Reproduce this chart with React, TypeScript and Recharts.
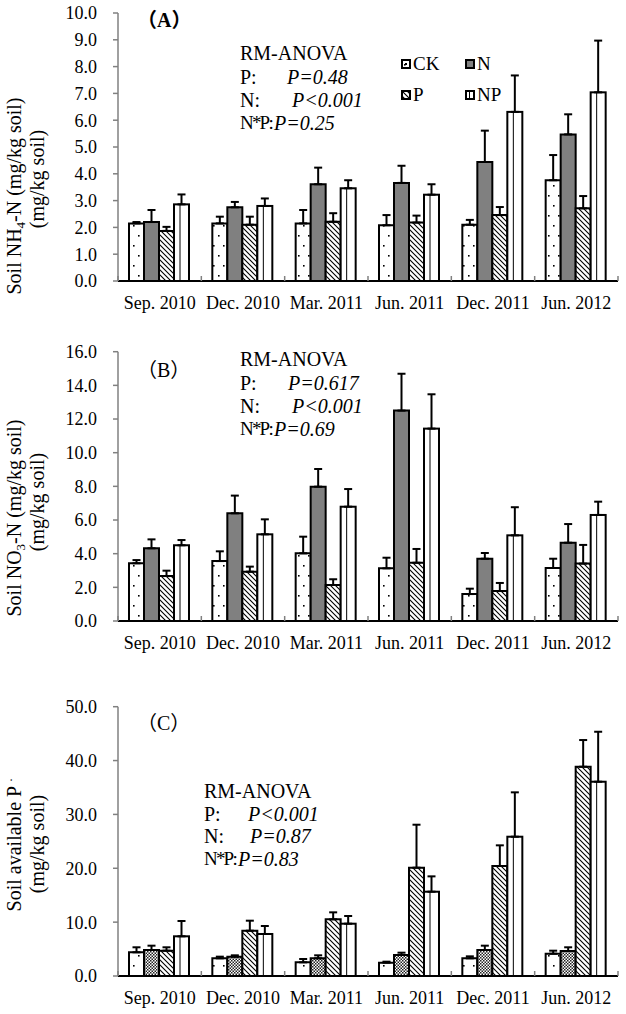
import React from 'react';
import { BarChart, Bar, XAxis, YAxis, ErrorBar, Legend } from 'recharts';

const FONT = '"Liberation Serif", "Times New Roman", serif';

const dates = ['Sep. 2010', 'Dec. 2010', 'Mar. 2011', 'Jun. 2011', 'Dec. 2011', 'Jun. 2012'];

// (A) NH4-N
const nh4CK = [2.15, 2.15, 2.15, 2.08, 2.1, 3.76];
const nh4CKse = [0.05, 0.25, 0.5, 0.38, 0.18, 0.94];
const nh4N = [2.2, 2.75, 3.61, 3.66, 4.44, 5.47];
const nh4Nse = [0.45, 0.2, 0.62, 0.64, 1.17, 0.75];
const nh4P = [1.87, 2.1, 2.21, 2.18, 2.46, 2.71];
const nh4Pse = [0.15, 0.3, 0.32, 0.26, 0.3, 0.46];
const nh4NP = [2.86, 2.8, 3.46, 3.22, 6.31, 7.04];
const nh4NPse = [0.37, 0.28, 0.3, 0.39, 1.36, 1.93];

// (B) NO3-N
const no3CK = [3.43, 3.56, 4.02, 3.13, 1.6, 3.15];
const no3CKse = [0.19, 0.58, 0.99, 0.63, 0.32, 0.55];
const no3N = [4.32, 6.4, 7.98, 12.5, 3.7, 4.65];
const no3Nse = [0.53, 1.05, 1.05, 2.19, 0.34, 1.11];
const no3P = [2.67, 2.93, 2.14, 3.46, 1.78, 3.41];
const no3Pse = [0.32, 0.3, 0.34, 0.82, 0.48, 1.11];
const no3NP = [4.5, 5.15, 6.79, 11.43, 5.09, 6.3];
const no3NPse = [0.31, 0.89, 1.05, 2.04, 1.67, 0.79];

// (C) available P
const avpCK = [4.4, 3.28, 2.54, 2.47, 3.28, 4.14];
const avpCKse = [0.93, 0.31, 0.62, 0.19, 0.37, 0.56];
const avpN = [4.83, 3.59, 3.28, 3.9, 4.83, 4.64];
const avpNse = [0.8, 0.25, 0.56, 0.43, 0.8, 0.69];
const avpP = [4.7, 8.41, 10.52, 20.11, 20.42, 38.85];
const avpPse = [0.63, 1.86, 1.3, 7.98, 3.84, 4.96];
const avpNP = [7.37, 7.8, 9.71, 15.65, 25.86, 36.07];
const avpNPse = [2.84, 1.48, 1.43, 2.85, 8.24, 9.28];

const ticksA = [0, 1, 2, 3, 4, 5, 6, 7, 8, 9, 10];
const ticksB = [0, 2, 4, 6, 8, 10, 12, 14, 16];
const ticksC = [0, 10, 20, 30, 40, 50];

const buildRows = (ck, ckSe, n, nSe, p, pSe, np, npSe) =>
  dates.map((d, i) => ({
    date: d,
    CK: ck[i], CKe: [0, ckSe[i]],
    N: n[i], Ne: [0, nSe[i]],
    P: p[i], Pe: [0, pSe[i]],
    NP: np[i], NPe: [0, npSe[i]],
  }));

const rowsA = buildRows(nh4CK, nh4CKse, nh4N, nh4Nse, nh4P, nh4Pse, nh4NP, nh4NPse);
const rowsB = buildRows(no3CK, no3CKse, no3N, no3Nse, no3P, no3Pse, no3NP, no3NPse);
const rowsC = buildRows(avpCK, avpCKse, avpN, avpNse, avpP, avpPse, avpNP, avpNPse);

const Patterns = () => (
  <svg width={0} height={0} style={{ position: 'absolute' }}>
    <defs>
      <pattern id="dots" patternUnits="userSpaceOnUse" width={10} height={20}>
        <rect width={10} height={20} fill="#fff" />
        <rect x={3} y={5} width={1.6} height={1.6} fill="#000" />
        <rect x={8} y={15} width={1.6} height={1.6} fill="#000" />
      </pattern>
      <pattern id="hatch" patternUnits="userSpaceOnUse" width={5} height={5}>
        <rect width={5} height={5} fill="#fff" />
        <path d="M0,0 L5,5 M-1,4 L1,6 M4,-1 L6,1" stroke="#000" strokeWidth={1.1} />
      </pattern>
      <pattern id="checker" patternUnits="userSpaceOnUse" width={3} height={3}>
        <rect width={3} height={3} fill="#fff" />
        <rect width={1.5} height={1.5} fill="#222" />
        <rect x={1.5} y={1.5} width={1.5} height={1.5} fill="#222" />
      </pattern>
    </defs>
  </svg>
);

const NPShape = (props) => {
  const { x, y, width, height } = props;
  if (!height || height <= 0) return null;
  const lx = x + width * 0.4;
  return (
    <g>
      <rect x={x} y={y} width={width} height={height} fill="#fff" stroke="#000" strokeWidth={2} />
      <line x1={lx} x2={lx} y1={y} y2={y + height} stroke="#000" strokeWidth={1} />
    </g>
  );
};

const XTick = (props) => {
  const { x, y, payload, index } = props;
  const half = payload && payload.offset ? payload.offset : 500 / 12;
  return (
    <g>
      <text x={x} y={y + 28} textAnchor="middle" fontSize={18} fontFamily={FONT} fill="#000">
        {payload.value}
      </text>
      <line x1={x - half} x2={x - half} y1={y} y2={y - 5} stroke="#808080" strokeWidth={1.5} />
      {index === dates.length - 1 && (
        <line x1={x + half} x2={x + half} y1={y} y2={y - 5} stroke="#808080" strokeWidth={1.5} />
      )}
    </g>
  );
};

const LegendIcon = ({ name }) => {
  let fill = '#fff';
  if (name === 'CK') fill = 'url(#dots)';
  if (name === 'N') fill = '#808080';
  if (name === 'P') fill = 'url(#hatch)';
  return (
    <svg width={10} height={10} style={{ marginRight: 2 }}>
      <rect x={1} y={1} width={8} height={8} fill={fill} stroke="#000" strokeWidth={2} />
      {name === 'CK' && <rect x={4} y={4} width={2} height={2} fill="#000" />}
      {name === 'NP' && <line x1={4.5} x2={4.5} y1={1} y2={9} stroke="#000" strokeWidth={1} />}
    </svg>
  );
};

const renderLegend = ({ payload }) => {
  const order = ['CK', 'N', 'P', 'NP'];
  const items = order.map((k) => (payload || []).find((p) => p.value === k)).filter(Boolean);
  return (
    <div style={{ display: 'grid', gridTemplateColumns: '64px 64px', rowGap: 11 }}>
      {items.map((it) => (
        <div key={it.value} style={{ display: 'flex', alignItems: 'center', fontFamily: FONT, fontSize: 19, lineHeight: '20px', color: '#000' }}>
          <LegendIcon name={it.value} />
          {it.value}
        </div>
      ))}
    </div>
  );
};

const YLabel = ({ lines, cy1, cy2 }) => (
  <g fontFamily={FONT} fontSize={20} fill="#000">
    <text x={21} y={cy1} textAnchor="middle" transform={`rotate(-90 21 ${cy1})`}>{lines[0]}</text>
    <text x={44} y={cy2} textAnchor="middle" transform={`rotate(-90 44 ${cy2})`}>{lines[1]}</text>
  </g>
);

const Panel = ({ rows, top, height, marginTop, xHeight, domain, ticks, nFill, yLabel, showLegend }) => (
  <div style={{ position: 'absolute', left: 0, top }}>
    <BarChart
      width={626}
      height={height}
      data={rows}
      margin={{ top: marginTop, right: 8, left: 0, bottom: 0 }}
      barCategoryGap={11}
      barGap={0}
    >
      <XAxis
        dataKey="date"
        height={xHeight}
        interval={0}
        axisLine={{ stroke: '#000', strokeWidth: 2 }}
        tickLine={false}
        tickSize={0}
        tickMargin={0}
        tick={<XTick />}
      />
      <YAxis
        width={118}
        domain={domain}
        ticks={ticks}
        interval={0}
        allowDataOverflow
        tickFormatter={(v) => v.toFixed(1)}
        axisLine={{ stroke: '#808080', strokeWidth: 1.5 }}
        tickLine={{ stroke: '#808080', strokeWidth: 1.5 }}
        tickSize={5}
        tickMargin={16}
        tick={{ fontSize: 18, fill: '#000', fontFamily: FONT }}
        label={{ content: () => yLabel }}
      />
      {showLegend && (
        <Legend
          layout="horizontal"
          verticalAlign="middle"
          align="center"
          content={renderLegend}
          wrapperStyle={{ position: 'absolute', left: 401, top: 54, width: 140 }}
        />
      )}
      <Bar dataKey="CK" name="CK" fill="url(#dots)" stroke="#000" strokeWidth={2} isAnimationActive={false}>
        <ErrorBar dataKey="CKe" direction="y" width={4} stroke="#000" strokeWidth={2} />
      </Bar>
      <Bar dataKey="N" name="N" fill={nFill} stroke="#000" strokeWidth={2} isAnimationActive={false}>
        <ErrorBar dataKey="Ne" direction="y" width={4} stroke="#000" strokeWidth={2} />
      </Bar>
      <Bar dataKey="P" name="P" fill="url(#hatch)" stroke="#000" strokeWidth={2} isAnimationActive={false}>
        <ErrorBar dataKey="Pe" direction="y" width={4} stroke="#000" strokeWidth={2} />
      </Bar>
      <Bar dataKey="NP" name="NP" fill="#fff" shape={NPShape} isAnimationActive={false}>
        <ErrorBar dataKey="NPe" direction="y" width={4} stroke="#000" strokeWidth={2} />
      </Bar>
    </BarChart>
  </div>
);

const textStyle = { position: 'absolute', fontFamily: FONT, fontSize: 20, lineHeight: '20px', color: '#000', whiteSpace: 'nowrap' };

const Anova = ({ left, centers, vals }) => (
  <>
    <div style={{ ...textStyle, left, top: centers[0] - 10 }}>RM-ANOVA</div>
    {['P:', 'N:', 'N*P:'].map((lab, i) => (
      <React.Fragment key={lab}>
        <div
          style={{
            ...textStyle,
            left,
            top: centers[i + 1] - 10,
            ...(lab === 'N*P:' ? { fontSize: 19, letterSpacing: -1.8 } : {}),
          }}
        >
          {lab}
        </div>
        <div style={{ ...textStyle, left: vals[i][1], top: centers[i + 1] - 10, fontStyle: 'italic' }}>{vals[i][0]}</div>
      </React.Fragment>
    ))}
  </>
);

const panelTag = (txt, top, bold) => (
  <div style={{ ...textStyle, left: 137, top, fontWeight: bold ? 'bold' : 'normal', fontFamily: '"Liberation Serif", "Noto Sans CJK SC", serif' }}>
    {txt}
  </div>
);

const nh4Label = (
  <YLabel
    cy1={196}
    cy2={179}
    lines={[
      <>Soil NH<tspan dy={4} fontSize={13}>4</tspan><tspan dy={-4}>-N (mg/kg soil)</tspan></>,
      '(mg/kg soil)',
    ]}
  />
);
const no3Label = (
  <YLabel
    cy1={198}
    cy2={182}
    lines={[
      <>Soil NO<tspan dy={4} fontSize={13}>3</tspan><tspan dy={-4}>-N (mg/kg soil)</tspan></>,
      '(mg/kg soil)',
    ]}
  />
);
const avpLabel = (
  <YLabel
    cy1={185}
    cy2={184}
    lines={[
      <>Soil available P <tspan dy={-9} fontSize={12}>.</tspan></>,
      '(mg/kg soil)',
    ]}
  />
);

export default function App() {
  return (
    <div style={{ position: 'absolute', left: 0, top: 0, width: 626, height: 1014, background: '#fff', overflow: 'hidden' }}>
      <Patterns />
      <Panel rows={rowsA} top={0} height={320} marginTop={13} xHeight={39} domain={[0, 10]} ticks={ticksA} nFill="#808080" yLabel={nh4Label} showLegend />
      <Panel rows={rowsB} top={320} height={340} marginTop={31.7} xHeight={39} domain={[0, 16]} ticks={ticksB} nFill="#808080" yLabel={no3Label} />
      <Panel rows={rowsC} top={660} height={354} marginTop={46.7} xHeight={38} domain={[0, 50]} ticks={ticksC} nFill="url(#checker)" yLabel={avpLabel} />

      {panelTag('（A）', 10, true)}
      {panelTag('（B）', 360, false)}
      {panelTag('（C）', 713, false)}

      <Anova left={240} centers={[53, 77, 100, 123]} vals={[['P=0.48', 287], ['P<0.001', 292], ['P=0.25', 274]]} />
      <Anova left={240} centers={[359, 383, 406, 429]} vals={[['P=0.617', 288], ['P<0.001', 292], ['P=0.69', 274]]} />
      <Anova left={204} centers={[791, 814, 836, 859]} vals={[['P<0.001', 248], ['P=0.87', 250], ['P=0.83', 238]]} />
    </div>
  );
}
